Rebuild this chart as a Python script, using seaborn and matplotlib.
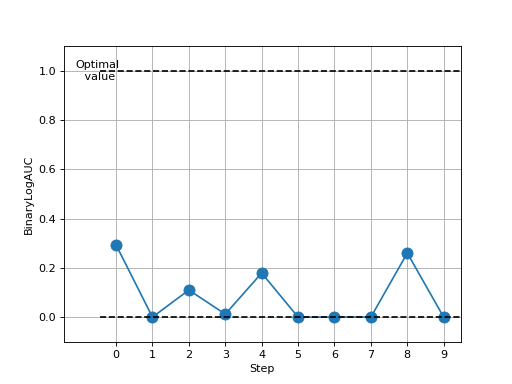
import matplotlib
matplotlib.use("Agg")
import matplotlib.pyplot as plt
import seaborn as sns
import pandas as pd

steps = [0, 1, 2, 3, 4, 5, 6, 7, 8, 9]
values = [0.293, 0.0, 0.11, 0.012, 0.179, 0.0, 0.0, 0.0, 0.26, 0.0]
optimal = 1.0
baseline = 0.0

df = pd.DataFrame({"Step": steps, "BinaryLogAUC": values})

fig, ax = plt.subplots(figsize=(6.4, 4.8), dpi=80)
sns.lineplot(data=df, x="Step", y="BinaryLogAUC", marker="o", markersize=10,
             color="#1f77b4", markeredgecolor="#1f77b4", ax=ax, zorder=2)
for yv in (optimal, baseline):
    ax.plot([-0.45, 9.6], [yv, yv], "k--", linewidth=1.5, zorder=3)
ax.text(-0.5, optimal, "Optimal\n value", ha="center", va="center", fontsize=10, zorder=4)
ax.set_xticks(steps)
ax.set_xlim(-1.43, 9.47)
ax.set_ylim(-0.1, 1.1)
ax.grid(True)
ax.set_xlabel("Step")
ax.set_ylabel("BinaryLogAUC")
fig.savefig("out.png", dpi=80)
